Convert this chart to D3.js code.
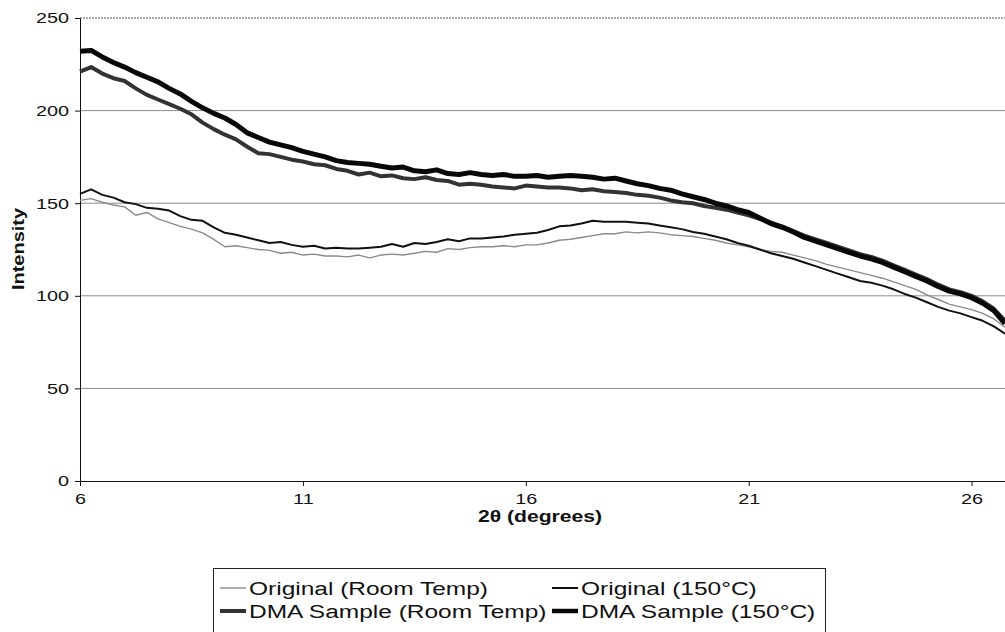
<!DOCTYPE html>
<html><head><meta charset="utf-8">
<script src="https://cdn.jsdelivr.net/npm/d3@7"></script>
<style>body{margin:0;background:#fff;} svg{display:block;} text{font-family:"Liberation Sans",Arial,sans-serif;}</style>
</head><body>
<svg id="c" width="1005" height="632"></svg>
<script>
const twoTheta = [6.00,6.25,6.50,6.75,7.00,7.25,7.50,7.75,8.00,8.25,8.50,8.75,9.00,9.25,9.50,9.75,10.00,10.25,10.50,10.75,11.00,11.25,11.50,11.75,12.00,12.25,12.50,12.75,13.00,13.25,13.50,13.75,14.00,14.25,14.50,14.75,15.00,15.25,15.50,15.75,16.00,16.25,16.50,16.75,17.00,17.25,17.50,17.75,18.00,18.25,18.50,18.75,19.00,19.25,19.50,19.75,20.00,20.25,20.50,20.75,21.00,21.25,21.50,21.75,22.00,22.25,22.50,22.75,23.00,23.25,23.50,23.75,24.00,24.25,24.50,24.75,25.00,25.25,25.50,25.75,26.00,26.25,26.50,26.75];

const originalRoom = [151.5,152.5,150.5,149,148,143.5,145,141.5,139.5,137.5,136,134,130.5,126.5,127,126,125,124.5,123,123.5,122,122.5,121.5,121.5,121,122,120.5,122,122.5,122,123,124,123.5,125.5,125,126,126.5,126.5,127,126.5,127.5,127.5,128.5,130,130.5,131.5,132.5,133.5,133.5,134.5,134,134.5,134,133,132.5,132,131,130,128.5,127.5,126.5,125,124,123.5,122,120.5,119,117,115.5,114,112.5,111,109.5,107.5,105.5,103.5,100.5,98,95.5,94,92.5,90.5,87.5,83];

const original150 = [155,157.5,154.5,153,150.5,149.5,147.5,147,146,143,141,140.5,137,134,133,131.5,130,128.5,129,127.5,126.5,127,125.5,126,125.5,125.5,126,126.5,128,126.5,128.5,128,129,130.5,129.5,131,131,131.5,132,133,133.5,134,135.5,137.5,138,139,140.5,140,140,140,139.5,139,138,137,136,134.5,133.5,132,130.5,128.5,127,125,123,121.5,120,118,116,114,112,110,108,107,105.5,103.5,101,99,96.5,94,92,90.5,88.5,86.5,83.5,79.5];

const dmaRoom = [221,223.5,220,217.5,216,212,208.5,206,203.5,201,198,193.5,190,187,184.5,180.5,177,176.5,175,173.5,172.5,171,170.5,168.5,167.5,165.5,166.5,164.5,165,163.5,163,164,162.5,162,160,160.5,160,159,158.5,158,159.5,159,158.5,158.5,158,157,157.5,156.5,156,155.5,154.5,154,153,151.5,150.5,150,148.5,147.5,146.5,145,143.5,141.5,139.5,137.5,135,132.5,130.5,128.5,126.5,124.5,122.5,121,119,116.5,114,111.5,109,106,103.5,102,100,97,93,86.5];

const dma150 = [232,232.5,229,226,223.5,220.5,218,215.5,212,209,205,201.5,198.5,196,192.5,188,185.5,183,181.5,180,178,176.5,175,173,172,171.5,171,170,169,169.5,167.5,167,168,166,165.5,166.5,165.5,165,165.5,164.5,164.5,165,164,164.5,165,164.5,164,163,163.5,162,160.5,159.5,158,157,155,153.5,152,150,148.5,146.5,145,142,139,137,134.5,131.5,129.5,127.5,125.5,123.5,121.5,120,118,115.5,113,110.5,108,105,102.5,101,99,96,92,85];

const seriesNames = ["Original (Room Temp)","Original (150°C)","DMA Sample (Room Temp)","DMA Sample (150°C)"];
const xTicks = [6,11,16,21,26];
const yTicks = [0,50,100,150,200,250];

const series = [
  {name: seriesNames[0], values: originalRoom, color: "#8a8a8a", width: 1.4},
  {name: seriesNames[1], values: original150, color: "#111", width: 2},
  {name: seriesNames[2], values: dmaRoom, color: "#333", width: 4},
  {name: seriesNames[3], values: dma150, color: "#080808", width: 5}
];

const STRETCH = 1.32;
function stretch(sel, k) {
  sel.each(function() {
    const w = this.getComputedTextLength();
    d3.select(this).attr("textLength", w * k).attr("lengthAdjust", "spacingAndGlyphs");
  });
}

const svg = d3.select("#c");
const x = d3.scaleLinear().domain([6, 26.75]).range([80, 1005]);
const y = d3.scaleLinear().domain([0, 250]).range([481, 18]);

// gridlines
svg.append("g").selectAll("line").data(yTicks.filter(d => d > 0)).join("line")
  .attr("x1", 80).attr("x2", 1005)
  .attr("y1", d => y(d)).attr("y2", d => y(d))
  .attr("stroke", d => d === 250 ? "#555" : "#8c8c8c")
  .attr("stroke-width", 1)
  .attr("stroke-dasharray", d => d === 250 ? "2,1" : null);

// y axis
const yAxis = d3.axisLeft(y).tickValues(yTicks).tickSize(5).tickPadding(6);
const gy = svg.append("g").attr("transform", "translate(80,0)").call(yAxis);
gy.selectAll("text").attr("font-size", 15).attr("fill", "#111").attr("font-family", "Liberation Sans, Arial, sans-serif");
gy.selectAll("line,path").attr("stroke", "#111");
stretch(gy.selectAll("text"), STRETCH);

// x axis
const xAxis = d3.axisBottom(x).tickValues(xTicks).tickSize(5).tickPadding(7).tickSizeOuter(0);
const gx = svg.append("g").attr("transform", "translate(0,481)").call(xAxis);
gx.selectAll("text").attr("font-size", 15).attr("fill", "#111").attr("font-family", "Liberation Sans, Arial, sans-serif");
gx.selectAll("line,path").attr("stroke", "#111");
stretch(gx.selectAll("text"), STRETCH);

// lines
const line = d3.line().x((d, i) => x(twoTheta[i])).y(d => y(d)).curve(d3.curveLinear);
svg.append("g").selectAll("path").data(series).join("path")
  .attr("d", d => line(d.values))
  .attr("fill", "none")
  .attr("stroke", d => d.color)
  .attr("stroke-width", d => d.width)
  .attr("stroke-linejoin", "round");

// axis titles
const xt = svg.append("text").attr("x", 540).attr("y", 522).attr("text-anchor", "middle")
  .attr("font-size", 16).attr("font-weight", "bold").attr("fill", "#111").text("2θ (degrees)");
stretch(xt, STRETCH);
svg.append("text").attr("transform", "translate(24,249) rotate(-90)").attr("text-anchor", "middle")
  .attr("font-size", 17).attr("font-weight", "bold").attr("fill", "#111")
  .attr("textLength", 82).attr("lengthAdjust", "spacingAndGlyphs").text("Intensity");

// legend
const lg = svg.append("g");
lg.append("rect").attr("x", 213.5).attr("y", 568.5).attr("width", 612).attr("height", 80)
  .attr("fill", "none").attr("stroke", "#222").attr("stroke-width", 1);
const pos = [[220, 588], [552, 588], [220, 611], [552, 611]];
series.forEach((s, i) => {
  const [px, py] = pos[i];
  lg.append("line").attr("x1", px).attr("x2", px + 26).attr("y1", py).attr("y2", py)
    .attr("stroke", s.color).attr("stroke-width", Math.min(s.width, 4.5));
  const t = lg.append("text").attr("x", px + 29).attr("y", py + 6.5).attr("font-size", 18)
    .attr("fill", "#111").text(s.name);
  stretch(t, 1.36);
});
</script>
</body></html>
